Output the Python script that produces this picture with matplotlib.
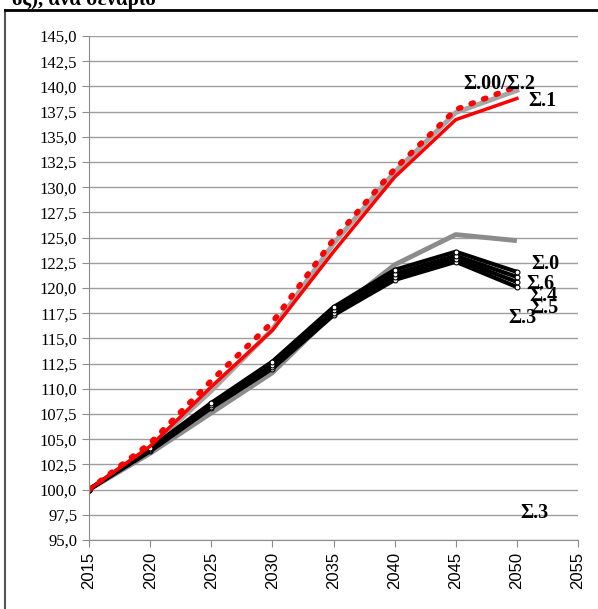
import matplotlib.pyplot as plt
from matplotlib.lines import Line2D

plt.rcParams['font.family'] = ['Liberation Serif', 'DejaVu Serif']

years = [2015, 2020, 2025, 2030, 2035, 2040, 2045, 2050]

s00 = [100, 104.6, 110.8, 116.6, 124.8, 131.8, 137.7, 140.0]
s2 = [100, 104.2, 109.8, 115.9, 124.4, 131.5, 137.4, 139.6]
s1 = [100, 104.3, 110.2, 115.8, 123.6, 131.0, 136.7, 138.8]
s_gray = [100, 103.6, 107.6, 111.6, 117.5, 122.3, 125.3, 124.7]
s0 = [100, 104.1, 108.6, 112.7, 118.1, 121.8, 123.6, 121.6]
s6 = [100, 104.0, 108.4, 112.4, 117.8, 121.4, 123.2, 121.1]
s4 = [100, 103.9, 108.2, 112.2, 117.5, 121.1, 122.9, 120.6]
s5 = [100, 103.8, 108.1, 112.0, 117.3, 120.8, 122.6, 120.1]

yticks = [95 + 2.5 * i for i in range(21)]
xticks = list(range(2015, 2060, 5))

fig = plt.figure(figsize=(5.98, 6.09), dpi=100)
ax = fig.add_axes([89 / 598, 69 / 609, 489 / 598, 504 / 609])

ax.plot(years, s_gray, color='#8c8c8c', lw=3.5, solid_capstyle='butt')
ax.plot(years, s2, color='#a6a6a6', lw=3.5)
for s in [s5, s4, s6, s0]:
    ax.plot(years, s, color='black', lw=3.0, marker='o', ms=3.5,
            mfc='white', mec='black', mew=0.8)
ax.plot(years, s1, color='#ff0000', lw=2.5)
ax.plot(years, s00, color='#ff0000', lw=4, ls=(0, (0.4, 2.0)),
        dash_capstyle='round')

lbl = dict(fontsize=14.5, fontweight='bold', color='black', va='center')
ax.text(2045.6, 140.2, 'Σ.00/Σ.2', **lbl)
ax.text(2050.9, 138.6, 'Σ.1', **lbl)
ax.text(2051.2, 122.4, 'Σ.0', **lbl)
ax.text(2050.8, 120.4, 'Σ.6', **lbl)
ax.text(2051.0, 119.2, 'Σ.4', **lbl)
ax.text(2051.1, 118.0, 'Σ.5', **lbl)
ax.text(2049.3, 117.0, 'Σ.3', **lbl)
ax.text(2050.3, 97.7, 'Σ.3', **lbl)

ax.set_xlim(2015, 2055)
ax.set_ylim(95, 145)
ax.set_yticks(yticks)
ax.set_yticklabels([f'{v:.1f}'.replace('.', ',') for v in yticks], fontsize=12)
ax.set_xticks(xticks)
ax.set_xticklabels([str(x) for x in xticks], rotation=90, fontsize=12,
                   family='Liberation Sans')
ax.yaxis.grid(True, color='#9e9e9e', lw=1)
ax.set_axisbelow(True)
for side in ['top', 'right']:
    ax.spines[side].set_visible(False)
for side in ['left', 'bottom']:
    ax.spines[side].set_color('#8c8c8c')
ax.tick_params(colors='#8c8c8c', labelcolor='black', length=5)

# frame and cut-off heading
fig.add_artist(Line2D([5 / 598, 5 / 598], [0, 1 - 10 / 609], color='#555555', lw=1.5))
fig.add_artist(Line2D([5 / 598, 1], [1 - 10 / 609, 1 - 10 / 609], color='black', lw=2))
fig.text(0.02, 1.0, 'ός), ανά σενάριο', fontsize=15, fontweight='bold',
         va='center', ha='left')

fig.savefig('out.png', dpi=100)
